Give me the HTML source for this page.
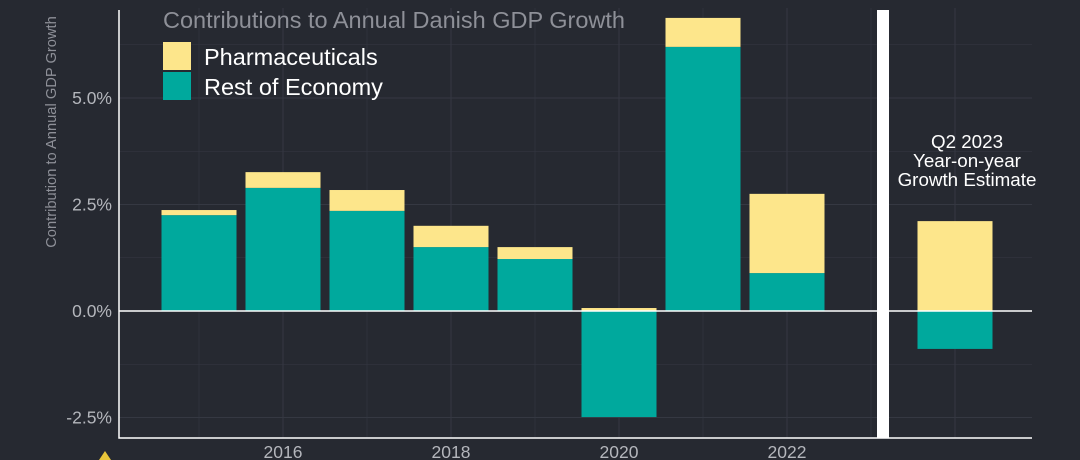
<!DOCTYPE html>
<html><head><meta charset="utf-8"><style>
body{margin:0;background:#262931;}
svg{display:block;font-family:"Liberation Sans",sans-serif;}
</style></head><body>
<svg id="c" width="1080" height="460"></svg>
<script>
const years=[2015,2016,2017,2018,2019,2020,2021,2022,2024];
const rest=[2.25,2.89,2.35,1.50,1.22,-2.49,6.20,0.89,-0.89];
const pharma=[0.12,0.37,0.49,0.50,0.28,0.07,0.68,1.86,2.11];
const yTicks=[-2.5,0,2.5,5.0];
const yTickLabels=["-2.5%","0.0%","2.5%","5.0%"];
const xTicks=[2016,2018,2020,2022];
const svg=document.getElementById('c');
const NS='http://www.w3.org/2000/svg';
const y=v=>311-v*42.6;
const x=yr=>199+(yr-2015)*84;
function mk(t,a,p){const e=document.createElementNS(NS,t);for(const k in a)e.setAttribute(k,a[k]);(p||svg).appendChild(e);return e;}
for(let v=-3.75;v<=7;v+=1.25){const g=mk('line',{x1:119,x2:1032,y1:y(v),y2:y(v),stroke:'#353842','stroke-width':v%2.5===0?1:0.6});

}
for(let yr=2015;yr<=2024;yr++){const g=mk('line',{x1:x(yr),x2:x(yr),y1:8,y2:438,stroke:'#353842','stroke-width':yr%2===0?1:0.6});

}
years.forEach((yr,i)=>{
 const cx=x(yr),w=75;
 const r=rest[i];
 const rb=mk('rect',{x:cx-w/2,y:Math.min(y(0),y(r)),width:w,height:Math.abs(y(r)-y(0)),fill:'#00a99d'});
 
 
 const base=r>0?r:0;
 const pb=mk('rect',{x:cx-w/2,y:y(base+pharma[i]),width:w,height:y(base)-y(base+pharma[i]),fill:'#fde68b'});
 
 
});
const z=mk('line',{x1:119,x2:1032,y1:y(0),y2:y(0),stroke:'#fff','stroke-width':1.5});


const ax=mk('path',{d:'M119,10V438H1032',stroke:'#fff','stroke-width':1.5,fill:'none'});


const sep=mk('rect',{x:877,y:10,width:12,height:428,fill:'#fff'});


yTicks.forEach((v,i)=>{const t=mk('text',{x:112,y:y(v)+6,'text-anchor':'end',fill:'#b4b6bc','font-size':17.5});t.textContent=yTickLabels[i];

});
xTicks.forEach(v=>{const t=mk('text',{x:x(v),y:458,'text-anchor':'middle',fill:'#b4b6bc','font-size':17.5});t.textContent=v;

});
const yt=mk('text',{x:0,y:0,transform:'translate(56,132) rotate(-90)','text-anchor':'middle',fill:'#8e9098','font-size':14.7});
yt.textContent='Contribution to Annual GDP Growth';


const tt=mk('text',{x:163,y:28,fill:'#8e9098','font-size':23.5});tt.textContent='Contributions to Annual Danish GDP Growth';


[['Pharmaceuticals','#fde68b',42],['Rest of Economy','#00a99d',72]].forEach(([n,c,yy])=>{
 const s=mk('rect',{x:163,y:yy,width:28,height:28,fill:c});
 
 
 const t=mk('text',{x:204,y:yy+23,fill:'#fff','font-size':23.5});t.textContent=n;
 
 
});
['Q2 2023','Year-on-year','Growth Estimate'].forEach((s,i)=>{const t=mk('text',{x:967,y:148+i*19,'text-anchor':'middle',fill:'#fff','font-size':18.8});t.textContent=s;

});
const tri=mk('path',{d:'M99,460L105,451L111,460Z',fill:'#e8c53a'});


</script>
</body></html>
